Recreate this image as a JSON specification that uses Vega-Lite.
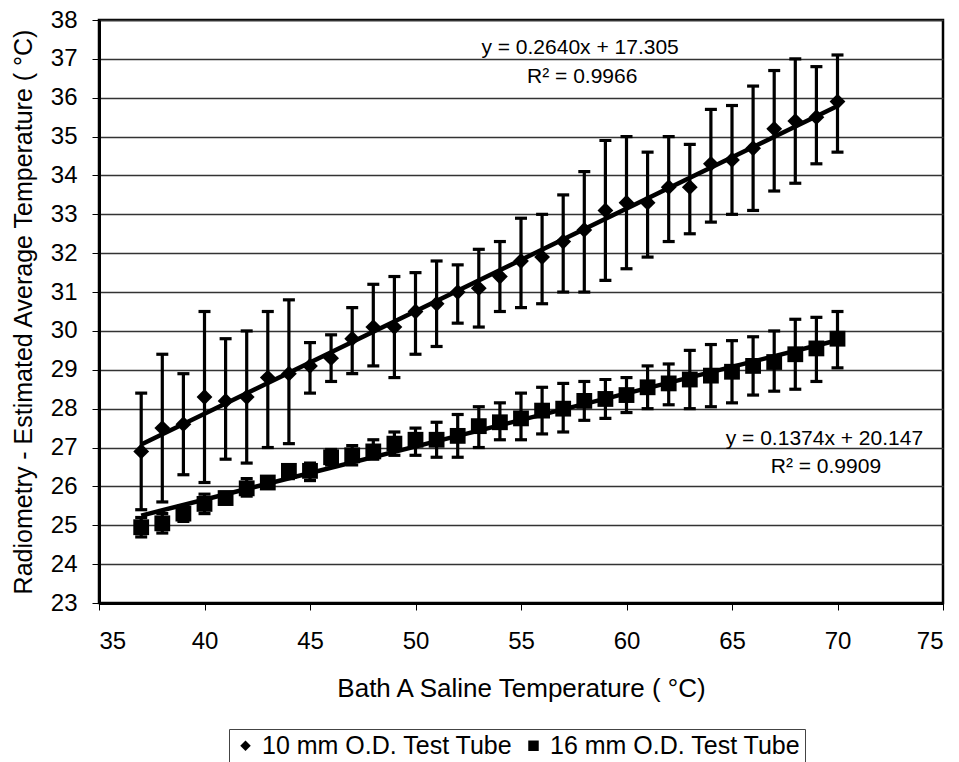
{
  "$schema": "https://vega.github.io/schema/vega-lite/v6.json",
  "width": 844,
  "height": 583,
  "autosize": {"type": "none"},
  "padding": {"left": 99, "top": 20, "right": 16, "bottom": 159},
  "background": "white",
  "config": {
    "font": "Liberation Sans",
    "view": {"stroke": "black", "strokeWidth": 2.5},
    "axis": {"labelFont": "Liberation Sans", "titleFont": "Liberation Sans", "labelColor": "black", "titleColor": "black", "titleFontWeight": "normal", "domainColor": "black", "tickColor": "black"}
  },
  "datasets": {
    "pts": [
      {"series": "10 mm O.D. Test Tube", "x": 37, "y": 26.9, "lo": 25.4, "hi": 28.4},
      {"series": "10 mm O.D. Test Tube", "x": 38, "y": 27.5, "lo": 25.6, "hi": 29.4},
      {"series": "10 mm O.D. Test Tube", "x": 39, "y": 27.6, "lo": 26.3, "hi": 28.9},
      {"series": "10 mm O.D. Test Tube", "x": 40, "y": 28.3, "lo": 26.1, "hi": 30.5},
      {"series": "10 mm O.D. Test Tube", "x": 41, "y": 28.2, "lo": 26.7, "hi": 29.8},
      {"series": "10 mm O.D. Test Tube", "x": 42, "y": 28.3, "lo": 26.6, "hi": 30.0},
      {"series": "10 mm O.D. Test Tube", "x": 43, "y": 28.8, "lo": 27.0, "hi": 30.5},
      {"series": "10 mm O.D. Test Tube", "x": 44, "y": 28.9, "lo": 27.1, "hi": 30.8},
      {"series": "10 mm O.D. Test Tube", "x": 45, "y": 29.1, "lo": 28.4, "hi": 29.7},
      {"series": "10 mm O.D. Test Tube", "x": 46, "y": 29.3, "lo": 28.7, "hi": 29.9},
      {"series": "10 mm O.D. Test Tube", "x": 47, "y": 29.8, "lo": 28.9, "hi": 30.6},
      {"series": "10 mm O.D. Test Tube", "x": 48, "y": 30.1, "lo": 29.1, "hi": 31.2},
      {"series": "10 mm O.D. Test Tube", "x": 49, "y": 30.1, "lo": 28.8, "hi": 31.4},
      {"series": "10 mm O.D. Test Tube", "x": 50, "y": 30.5, "lo": 29.4, "hi": 31.5},
      {"series": "10 mm O.D. Test Tube", "x": 51, "y": 30.7, "lo": 29.6, "hi": 31.8},
      {"series": "10 mm O.D. Test Tube", "x": 52, "y": 31.0, "lo": 30.2, "hi": 31.7},
      {"series": "10 mm O.D. Test Tube", "x": 53, "y": 31.1, "lo": 30.1, "hi": 32.1},
      {"series": "10 mm O.D. Test Tube", "x": 54, "y": 31.4, "lo": 30.5, "hi": 32.3},
      {"series": "10 mm O.D. Test Tube", "x": 55, "y": 31.8, "lo": 30.6, "hi": 32.9},
      {"series": "10 mm O.D. Test Tube", "x": 56, "y": 31.9, "lo": 30.7, "hi": 33.0},
      {"series": "10 mm O.D. Test Tube", "x": 57, "y": 32.3, "lo": 31.0, "hi": 33.5},
      {"series": "10 mm O.D. Test Tube", "x": 58, "y": 32.6, "lo": 31.0, "hi": 34.1},
      {"series": "10 mm O.D. Test Tube", "x": 59, "y": 33.1, "lo": 31.3, "hi": 34.9},
      {"series": "10 mm O.D. Test Tube", "x": 60, "y": 33.3, "lo": 31.6, "hi": 35.0},
      {"series": "10 mm O.D. Test Tube", "x": 61, "y": 33.3, "lo": 31.9, "hi": 34.6},
      {"series": "10 mm O.D. Test Tube", "x": 62, "y": 33.7, "lo": 32.3, "hi": 35.0},
      {"series": "10 mm O.D. Test Tube", "x": 63, "y": 33.7, "lo": 32.5, "hi": 34.8},
      {"series": "10 mm O.D. Test Tube", "x": 64, "y": 34.3, "lo": 32.8, "hi": 35.7},
      {"series": "10 mm O.D. Test Tube", "x": 65, "y": 34.4, "lo": 33.0, "hi": 35.8},
      {"series": "10 mm O.D. Test Tube", "x": 66, "y": 34.7, "lo": 33.1, "hi": 36.3},
      {"series": "10 mm O.D. Test Tube", "x": 67, "y": 35.2, "lo": 33.6, "hi": 36.7},
      {"series": "10 mm O.D. Test Tube", "x": 68, "y": 35.4, "lo": 33.8, "hi": 37.0},
      {"series": "10 mm O.D. Test Tube", "x": 69, "y": 35.5, "lo": 34.3, "hi": 36.8},
      {"series": "10 mm O.D. Test Tube", "x": 70, "y": 35.9, "lo": 34.6, "hi": 37.1},
      {"series": "16 mm O.D. Test Tube", "x": 37, "y": 24.95, "lo": 24.7, "hi": 25.2},
      {"series": "16 mm O.D. Test Tube", "x": 38, "y": 25.05, "lo": 24.8, "hi": 25.3},
      {"series": "16 mm O.D. Test Tube", "x": 39, "y": 25.3, "lo": 25.1, "hi": 25.5},
      {"series": "16 mm O.D. Test Tube", "x": 40, "y": 25.55, "lo": 25.3, "hi": 25.8},
      {"series": "16 mm O.D. Test Tube", "x": 41, "y": 25.7, "lo": 25.55, "hi": 25.85},
      {"series": "16 mm O.D. Test Tube", "x": 42, "y": 25.95, "lo": 25.75, "hi": 26.2},
      {"series": "16 mm O.D. Test Tube", "x": 43, "y": 26.1, "lo": 25.95, "hi": 26.25},
      {"series": "16 mm O.D. Test Tube", "x": 44, "y": 26.4, "lo": 26.2, "hi": 26.55},
      {"series": "16 mm O.D. Test Tube", "x": 45, "y": 26.4, "lo": 26.15, "hi": 26.6},
      {"series": "16 mm O.D. Test Tube", "x": 46, "y": 26.75, "lo": 26.55, "hi": 26.95},
      {"series": "16 mm O.D. Test Tube", "x": 47, "y": 26.8, "lo": 26.55, "hi": 27.05},
      {"series": "16 mm O.D. Test Tube", "x": 48, "y": 26.9, "lo": 26.7, "hi": 27.2},
      {"series": "16 mm O.D. Test Tube", "x": 49, "y": 27.1, "lo": 26.8, "hi": 27.4},
      {"series": "16 mm O.D. Test Tube", "x": 50, "y": 27.2, "lo": 26.8, "hi": 27.5},
      {"series": "16 mm O.D. Test Tube", "x": 51, "y": 27.2, "lo": 26.75, "hi": 27.65},
      {"series": "16 mm O.D. Test Tube", "x": 52, "y": 27.3, "lo": 26.75, "hi": 27.85},
      {"series": "16 mm O.D. Test Tube", "x": 53, "y": 27.55, "lo": 27.0, "hi": 28.05},
      {"series": "16 mm O.D. Test Tube", "x": 54, "y": 27.65, "lo": 27.2, "hi": 28.15},
      {"series": "16 mm O.D. Test Tube", "x": 55, "y": 27.75, "lo": 27.2, "hi": 28.4},
      {"series": "16 mm O.D. Test Tube", "x": 56, "y": 27.95, "lo": 27.35, "hi": 28.55},
      {"series": "16 mm O.D. Test Tube", "x": 57, "y": 28.0, "lo": 27.4, "hi": 28.65},
      {"series": "16 mm O.D. Test Tube", "x": 58, "y": 28.2, "lo": 27.7, "hi": 28.7},
      {"series": "16 mm O.D. Test Tube", "x": 59, "y": 28.25, "lo": 27.75, "hi": 28.75},
      {"series": "16 mm O.D. Test Tube", "x": 60, "y": 28.35, "lo": 27.9, "hi": 28.8},
      {"series": "16 mm O.D. Test Tube", "x": 61, "y": 28.55, "lo": 28.0, "hi": 29.1},
      {"series": "16 mm O.D. Test Tube", "x": 62, "y": 28.65, "lo": 28.1, "hi": 29.15},
      {"series": "16 mm O.D. Test Tube", "x": 63, "y": 28.75, "lo": 28.0, "hi": 29.5},
      {"series": "16 mm O.D. Test Tube", "x": 64, "y": 28.85, "lo": 28.05, "hi": 29.65},
      {"series": "16 mm O.D. Test Tube", "x": 65, "y": 28.95, "lo": 28.15, "hi": 29.75},
      {"series": "16 mm O.D. Test Tube", "x": 66, "y": 29.1, "lo": 28.35, "hi": 29.85},
      {"series": "16 mm O.D. Test Tube", "x": 67, "y": 29.2, "lo": 28.45, "hi": 30.0},
      {"series": "16 mm O.D. Test Tube", "x": 68, "y": 29.4, "lo": 28.5, "hi": 30.3},
      {"series": "16 mm O.D. Test Tube", "x": 69, "y": 29.55, "lo": 28.7, "hi": 30.35},
      {"series": "16 mm O.D. Test Tube", "x": 70, "y": 29.8, "lo": 29.05, "hi": 30.5}
    ],
    "labels": [
      {"x": 57.8, "y": 37.29, "text": "y = 0.2640x + 17.305"},
      {"x": 57.9, "y": 36.53, "text": "R² = 0.9966"},
      {"x": 69.38, "y": 27.23, "text": "y = 0.1374x + 20.147"},
      {"x": 69.45, "y": 26.49, "text": "R² = 0.9909"}
    ]
  },
  "encoding": {
    "x": {
      "type": "quantitative",
      "scale": {"domain": [35, 75], "nice": false, "zero": false},
      "axis": {
        "title": "Bath A Saline Temperature ( °C)",
        "values": [35, 40, 45, 50, 55, 60, 65, 70, 75],
        "grid": false,
        "domainWidth": 3,
        "tickSize": 7,
        "tickWidth": 1,
        "labelFontSize": 24,
        "labelPadding": 19,
        "titleFontSize": 26,
        "titlePadding": 22
      }
    },
    "y": {
      "type": "quantitative",
      "scale": {"domain": [23, 38], "nice": false, "zero": false},
      "axis": {
        "title": "Radiometry - Estimated Average Temperature ( °C)",
        "values": [23, 24, 25, 26, 27, 28, 29, 30, 31, 32, 33, 34, 35, 36, 37, 38],
        "grid": true,
        "gridColor": "#333333",
        "gridWidth": 1.4,
        "domainWidth": 3,
        "tickSize": 7,
        "tickWidth": 1,
        "labelFontSize": 24,
        "labelPadding": 15,
        "titleFontSize": 25,
        "titlePadding": 14
      }
    }
  },
  "layer": [
    {
      "data": {"name": "pts"},
      "mark": {"type": "rule", "color": "black", "strokeWidth": 3.2},
      "encoding": {"x": {"field": "x"}, "y": {"field": "lo"}, "y2": {"field": "hi"}}
    },
    {
      "data": {"name": "pts"},
      "transform": [{"fold": ["lo", "hi"], "as": ["end", "val"]}],
      "mark": {"type": "tick", "orient": "horizontal", "color": "black", "thickness": 3.2, "size": 12, "opacity": 1},
      "encoding": {"x": {"field": "x"}, "y": {"field": "val"}}
    },
    {
      "data": {"name": "pts"},
      "transform": [{"regression": "y", "on": "x", "groupby": ["series"], "extent": [37, 70]}],
      "mark": {"type": "line", "color": "black", "strokeWidth": 4.5},
      "encoding": {"x": {"field": "x"}, "y": {"field": "y"}, "detail": {"field": "series"}}
    },
    {
      "data": {"name": "pts"},
      "mark": {"type": "point", "filled": true, "color": "black", "opacity": 1, "size": 250},
      "encoding": {
        "x": {"field": "x"},
        "y": {"field": "y"},
        "shape": {
          "field": "series",
          "type": "nominal",
          "scale": {"domain": ["10 mm O.D. Test Tube", "16 mm O.D. Test Tube"], "range": ["diamond", "square"]},
          "legend": {
            "title": null,
            "orient": "none",
            "direction": "horizontal",
            "legendX": 130,
            "legendY": 709,
            "strokeColor": "#444444",
            "padding": 4,
            "labelFontSize": 25,
            "labelLimit": 400,
            "labelColor": "black",
            "labelFont": "Liberation Sans",
            "symbolSize": 110,
            "symbolFillColor": "black",
            "symbolStrokeColor": "black",
            "labelOffset": 4,
            "columnPadding": 8
          }
        }
      }
    },
    {
      "data": {"name": "labels"},
      "mark": {"type": "text", "fontSize": 21, "color": "black", "font": "Liberation Sans", "align": "center", "baseline": "middle"},
      "encoding": {"x": {"field": "x"}, "y": {"field": "y"}, "text": {"field": "text"}}
    }
  ]
}
